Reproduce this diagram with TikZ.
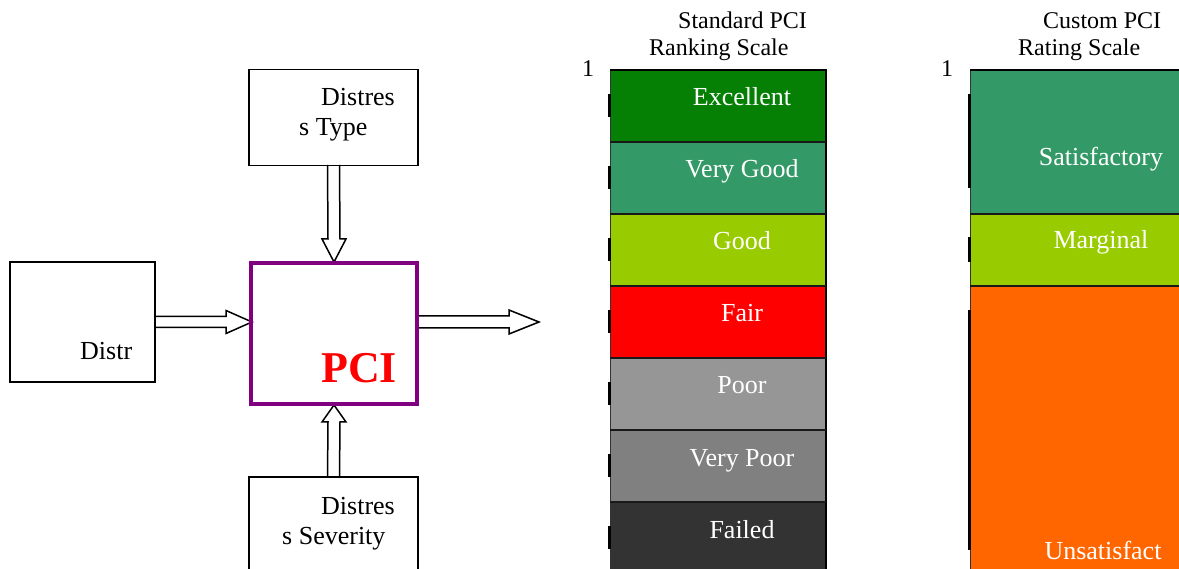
\documentclass[tikz,border=0pt]{standalone}
\usepackage{fontspec}
\setmainfont{Liberation Serif}
\usetikzlibrary{calc}
\pgfdeclarelayer{bg}
\pgfsetlayers{bg,main}
\definecolor{excg}{RGB}{5,128,5}
\definecolor{vgood}{RGB}{51,153,102}
\definecolor{goodc}{RGB}{153,204,0}
\definecolor{fairc}{RGB}{255,0,0}
\definecolor{poorc}{RGB}{150,150,150}
\definecolor{vpoor}{RGB}{128,128,128}
\definecolor{failc}{RGB}{51,51,51}
\definecolor{unsat}{RGB}{255,102,0}
\definecolor{pcipurple}{RGB}{128,0,128}
\tikzset{
  plainbox/.style={draw=black, line width=1.5pt, minimum width=169, minimum height=96, inner sep=0, outer sep=0},
  pcibox/.style={draw=pcipurple, line width=4.5pt, inner sep=0, outer sep=0},
  blockarrow/.style={draw=black, line width=1.5pt, fill=white, line join=miter},
  seg/.style={inner sep=0, outer sep=0, minimum width=216, minimum height=72},
  cseg/.style={inner sep=0, outer sep=0, minimum width=216},
  segtext/.style={text=white, font=\fontsize{26}{30}\selectfont, inner sep=0, anchor=base},
  lbl/.style={font=\fontsize{26}{30}\selectfont, inner sep=0, anchor=base west},
  ttl/.style={font=\fontsize{24}{28}\selectfont, inner sep=0, anchor=base west},
  divider/.style={draw=black!90, line width=2pt},
  edge/.style={draw=black, line width=1.5pt},
  thinedge/.style={draw=black!80, line width=0.8pt},
  tickmark/.style={draw=black, line width=2.2pt}
}
\begin{document}
\begin{tikzpicture}[x=1pt,y=-1pt]
\clip (0,0) rectangle (1179,569);
\begin{pgfonlayer}{bg}
\fill[white] (0,0) rectangle (1179,569);
\end{pgfonlayer}

% left side boxes
\node[plainbox, minimum width=145, minimum height=120] (distr) at (82.5,322) {};
\node[plainbox] (type) at (333.5,117.5) {};
\node[pcibox, minimum width=166, minimum height=141] (pci) at (334,333.5) {};
\node[plainbox, minimum height=140] (sev) at (333.5,547) {};

\node[lbl] (tdistr) at (80,360) {Distr};
\node[lbl] (ttype1) at (321,106) {Distres};
\node[lbl] (ttype2) at (299,136) {s Type};
\node[lbl] (tsev1) at (321,514) {Distres};
\node[lbl] (tsev2) at (282,544) {s Severity};
\node[inner sep=0, anchor=base west, text=red, font=\fontsize{44}{48}\selectfont\bfseries] (tpci) at (321,383) {PCI};

\begin{pgfonlayer}{bg}
% top: type -> pci
\draw[blockarrow] ($(type.south)+(-6,-0.7)$) -- ($(pci.north)+(-6,-24)$) -- ($(pci.north)+(-12,-24)$)
  -- ($(pci.north)+(0,-1)$) -- ($(pci.north)+(12,-24)$) -- ($(pci.north)+(6,-24)$) -- ($(type.south)+(6,-0.7)$);
% bottom: sev -> pci
\draw[blockarrow] ($(sev.north)+(-6,0.7)$) -- ($(pci.south)+(-6,18)$) -- ($(pci.south)+(-12,18)$)
  -- ($(pci.south)+(0,1)$) -- ($(pci.south)+(12,18)$) -- ($(pci.south)+(6,18)$) -- ($(sev.north)+(6,0.7)$);
% left: distr -> pci
\coordinate (ltip) at (distr.east -| pci.west);
\draw[blockarrow] ($(distr.east)+(-0.7,-5.5)$) -- ($(ltip)+(-25,-5.5)$) -- ($(ltip)+(-25,-11.5)$)
  -- ($(ltip)+(1,0)$) -- ($(ltip)+(-25,11.5)$) -- ($(ltip)+(-25,5.5)$) -- ($(distr.east)+(-0.7,5.5)$);
% right: pci -> out
\coordinate (pout) at (distr.east -| pci.east);
\coordinate (rtip) at (539,322);
\draw[blockarrow] ($(pout)+(-1,-6)$) -- ($(rtip)+(-30,-6)$) -- ($(rtip)+(-30,-12)$)
  -- (rtip) -- ($(rtip)+(-30,12)$) -- ($(rtip)+(-30,6)$) -- ($(pout)+(-1,6)$);
\end{pgfonlayer}

% standard scale
\node[ttl] (st1) at (678,29) {Standard PCI};
\node[ttl] (st2) at (649,56) {Ranking Scale};
\node[ttl] (one1) at (582,77) {1};

\node[seg, fill=excg]  (s1) at (718,106) {};
\node[seg, fill=vgood] (s2) at (718,178) {};
\node[seg, fill=goodc] (s3) at (718,250) {};
\node[seg, fill=fairc] (s4) at (718,322) {};
\node[seg, fill=poorc] (s5) at (718,394) {};
\node[seg, fill=vpoor] (s6) at (718,466) {};
\node[seg, fill=failc] (s7) at (718,538) {};

\draw[thinedge] (s7.south west) -- (s1.north west);
\draw[edge] (s1.north west) -- (s1.north east) -- (s7.south east);
\foreach \s in {s1,s2,s3,s4,s5,s6}{
  \draw[divider] (\s.south west) -- (\s.south east);
}
\foreach \s in {s1,s2,s3,s4,s5,s6,s7}{
  \draw[tickmark] ($(\s.west)+(-0.5,-12)$) -- ($(\s.west)+(-0.5,11)$);
}

\node[segtext] (l1) at ($(s1.center)+(24,0)$) {Excellent};
\node[segtext] (l2) at ($(s2.center)+(24,0)$) {Very Good};
\node[segtext] (l3) at ($(s3.center)+(24,0)$) {Good};
\node[segtext] (l4) at ($(s4.center)+(24,0)$) {Fair};
\node[segtext] (l5) at ($(s5.center)+(24,0)$) {Poor};
\node[segtext] (l6) at ($(s6.center)+(24,0)$) {Very Poor};
\node[segtext] (l7) at ($(s7.center)+(24,0)$) {Failed};

% custom scale
\node[ttl] (ct1) at (1043,29) {Custom PCI};
\node[ttl] (ct2) at (1018,56) {Rating Scale};
\node[ttl] (one2) at (941,77) {1};

\node[cseg, fill=vgood, minimum height=144] (c1) at (1078,142) {};
\node[cseg, fill=goodc, minimum height=72]  (c2) at (1078,250) {};
\node[cseg, fill=unsat, minimum height=320] (c3) at (1078,446) {};

\draw[thinedge] (c3.south west) -- (c1.north west);
\draw[edge] (c1.north west) -- (c1.north east);
\draw[divider] (c1.south west) -- (c1.south east);
\draw[divider] (c2.south west) -- (c2.south east);
\draw[tickmark] ($(c1.west)+(-0.5,-48)$) -- ($(c1.west)+(-0.5,46)$);
\draw[tickmark] ($(c2.west)+(-0.5,-13)$) -- ($(c2.west)+(-0.5,12)$);
\draw[tickmark] ($(c3.north west)+(-0.5,24)$) -- ($(c3.north west)+(-0.5,264)$);

\node[segtext] (m1) at (1101,166) {Satisfactory};
\node[segtext] (m2) at (1101,249) {Marginal};
\node[segtext] (m3) at (1103,559) {Unsatisfact};
\end{tikzpicture}
\end{document}
